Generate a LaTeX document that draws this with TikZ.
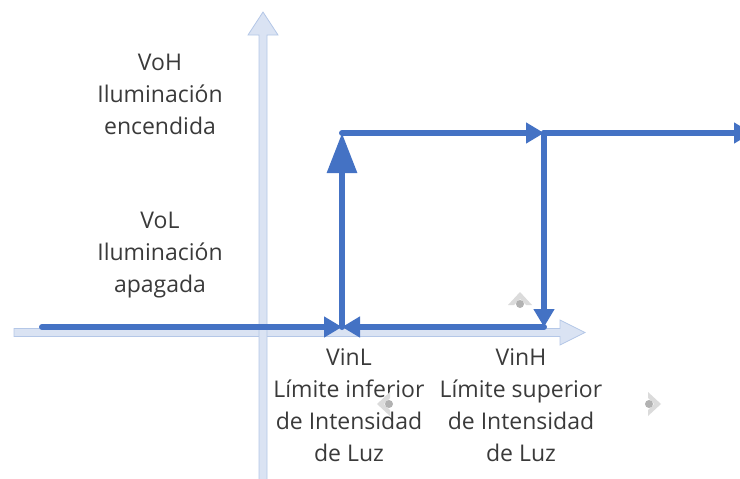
\documentclass[tikz,border=0pt]{standalone}
\usepackage{fontspec}
\setmainfont{Open Sans}
\usetikzlibrary{arrows.meta}
\definecolor{linie}{HTML}{4472C4}
\definecolor{achse}{HTML}{DAE3F3}
\definecolor{achsrand}{HTML}{B4C7E7}
\definecolor{schrift}{HTML}{3A3A3A}
\tikzset{
	pfad/.style={color=linie,line width=6pt,line cap=round},
	spitze/.style={-{Triangle[length=18pt,width=20pt]}},
	beschriftung/.style={text=schrift,align=center,font=\fontsize{23}{32}\selectfont}
}
% small grey marks
\def\marke#1#2#3{
	\begin{scope}[shift={(#1,#2)},rotate=#3]
		\fill[color=gray!28] (-12,6) -- (0,-7) -- (12,6) -- (6,6) -- (0,0) -- (-6,6) -- cycle;
		\fill[color=gray!60] (0,5) circle (4);
	\end{scope}
}

\begin{document}
\begin{tikzpicture}[x=1pt,y=-1pt]
\useasboundingbox (0,0) rectangle (740,479);
% axes
\filldraw[fill=achse,draw=achsrand,line width=0.8pt]
	(14,328.5) -- (560,328.5) -- (560,320) -- (585,332.5) -- (560,345) -- (560,336.5) -- (14,336.5) -- cycle;
\filldraw[fill=achse,draw=achsrand,line width=0.8pt]
	(259,480) -- (259,35) -- (248,35) -- (263,12) -- (278,35) -- (267,35) -- (267,480) -- cycle;
% curve
\coordinate (start) at (42,327);
\coordinate (vl) at (342,327);
\coordinate (vlo) at (342,133);
\coordinate (vho) at (544,133);
\coordinate (vh) at (544,327);
\coordinate (ende) at (752,133);
\draw[pfad,spitze] (start) -- (vl);
\draw[pfad,spitze] (vh) -- (vl);
\draw[pfad,-{Triangle[length=40pt,width=29pt]}] (vl) -- (vlo);
\draw[pfad,spitze] (vlo) -- (vho);
\draw[pfad,spitze] (vho) -- (vh);
\draw[pfad,spitze] (vho) -- (ende);
% texts
\node[beschriftung] (voh) at (160,94) {VoH\\Iluminación\\encendida};
\node[beschriftung] (vol) at (160,255) {VoL\\Iluminación\\apagada};
\node[beschriftung] (vinl) at (349,405) {VinL\\Límite inferior\\de Intensidad\\de Luz};
\node[beschriftung] (vinh) at (521,405) {VinH\\Límite superior\\de Intensidad\\de Luz};
\marke{520}{299}{0}
\marke{384}{404}{90}
\marke{654}{404}{-90}
\end{tikzpicture}
\end{document}
